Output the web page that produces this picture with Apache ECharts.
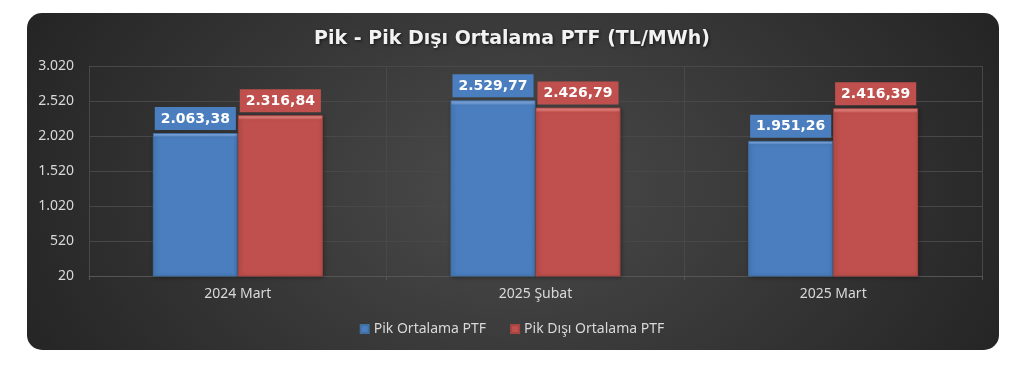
<!DOCTYPE html>
<html>
<head>
<meta charset="utf-8">
<script src="https://cdn.jsdelivr.net/npm/echarts@6/dist/echarts.min.js"></script>
<style>
html,body{margin:0;padding:0;background:#fff;width:1024px;height:367px;overflow:hidden;}
#bg{position:absolute;left:27px;top:13px;width:972px;height:337px;border-radius:15px;
background:radial-gradient(ellipse 620px 430px at 50% 52%, #4b4b4b 0%, #1f1f1f 100%);}
#chart{position:absolute;left:0;top:0;width:1024px;height:367px;}
</style>
</head>
<body>
<div id="bg"></div>
<div id="chart"></div>
<script>
var categories = ['2024 Mart', '2025 Şubat', '2025 Mart'];
var pikOrtalama = [2063.38, 2529.77, 1951.26];
var pikDisiOrtalama = [2316.84, 2426.79, 2416.39];
var seriesNames = ['Pik Ortalama PTF', 'Pik Dışı Ortalama PTF'];
var titleText = 'Pik - Pik Dışı Ortalama PTF (TL/MWh)';

function trThousands(n) {
  return String(n).replace(/\B(?=(\d{3})+(?!\d))/g, '.');
}
function trNumber(v) {
  var parts = v.toFixed(2).split('.');
  return trThousands(parts[0]) + ',' + parts[1];
}
function barGrad(top, mid, base) {
  return new echarts.graphic.LinearGradient(0, 0, 0, 1, [
    {offset: 0, color: top},
    {offset: 0.018, color: mid},
    {offset: 0.028, color: base},
    {offset: 1, color: base}
  ]);
}
var blue = '#4a7ebf', red = '#c0504d';
var boldFont = '"DejaVu Sans", Verdana, sans-serif';
var chart = echarts.init(document.getElementById('chart'), null, {renderer: 'canvas'});
var labelBase = {
  show: true, position: 'top', distance: 3,
  color: '#ffffff', fontFamily: boldFont, fontWeight: 'bold', fontSize: 14,
  padding: [5, 6, 4, 6],
  formatter: function (p) { return trNumber(p.value); }
};
chart.setOption({
  backgroundColor: 'transparent',
  animation: false,
  title: {
    text: titleText, left: 'center', top: 25,
    textStyle: {color: '#f2f2f2', fontFamily: boldFont, fontWeight: 'bold', fontSize: 19,
      textShadowColor: 'rgba(0,0,0,0.6)', textShadowBlur: 3, textShadowOffsetX: 1, textShadowOffsetY: 1}
  },
  legend: {
    data: seriesNames, top: 317, left: 'center', icon: 'rect',
    itemWidth: 8, itemHeight: 8, itemGap: 24,
    textStyle: {color: '#d9d9d9', fontFamily: 'Noto Sans', fontSize: 14}
  },
  grid: {left: 89, right: 42, top: 66, bottom: 91, containLabel: false},
  xAxis: {
    type: 'category', data: categories,
    axisLine: {lineStyle: {color: '#555555'}},
    axisTick: {show: true, length: 4, lineStyle: {color: '#555555'}},
    splitLine: {show: true, lineStyle: {color: '#484848'}},
    axisLabel: {color: '#d9d9d9', fontFamily: 'Noto Sans', fontSize: 14, margin: 11}
  },
  yAxis: {
    type: 'value', min: 20, max: 3020, interval: 500,
    axisLine: {show: true, lineStyle: {color: '#484848'}},
    axisTick: {show: false},
    splitLine: {show: true, lineStyle: {color: '#484848'}},
    axisLabel: {color: '#d9d9d9', fontFamily: 'Noto Sans', fontSize: 14, margin: 15,
      formatter: function (v) { return trThousands(v); }}
  },
  series: [
    {
      name: seriesNames[0], type: 'bar', data: pikOrtalama, barWidth: 85, barGap: '0%',
      itemStyle: {color: barGrad('#8db6ee', '#6f9bd8', blue), borderColor: '#41709f', borderWidth: 1,
        shadowColor: 'rgba(0,0,0,0.35)', shadowBlur: 4, shadowOffsetX: 1, shadowOffsetY: 1},
      label: Object.assign({}, labelBase, {backgroundColor: blue})
    },
    {
      name: seriesNames[1], type: 'bar', data: pikDisiOrtalama, barWidth: 85,
      itemStyle: {color: barGrad('#f39a96', '#df716d', red), borderColor: '#a64542', borderWidth: 1,
        shadowColor: 'rgba(0,0,0,0.35)', shadowBlur: 4, shadowOffsetX: 1, shadowOffsetY: 1},
      label: Object.assign({}, labelBase, {backgroundColor: red})
    }
  ]
});
</script>
</body>
</html>
